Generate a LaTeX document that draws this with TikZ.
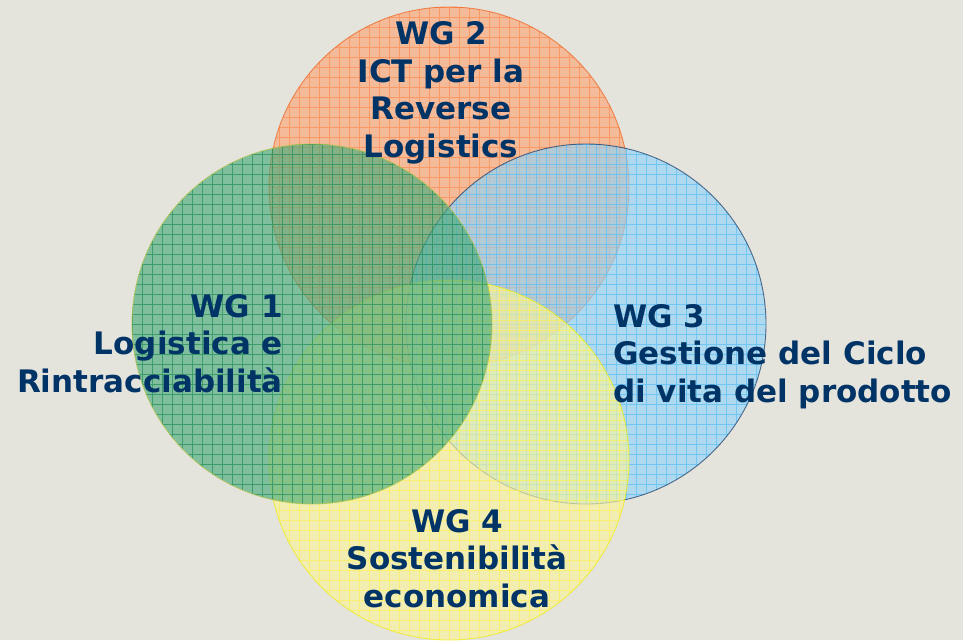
\documentclass[tikz,border=0pt]{standalone}
\usepackage{fontspec}
\setmainfont{DejaVu Sans}
\usepackage{tikz}
\definecolor{bg}{HTML}{E4E3DC}
\definecolor{navy}{HTML}{003366}
\definecolor{orfill}{HTML}{FCA678}
\definecolor{orgrid}{HTML}{FF8848}
\definecolor{orline}{HTML}{F05A10}
\definecolor{grfill}{HTML}{4AAC7C}
\definecolor{grgrid}{HTML}{1A8A52}
\definecolor{grline}{HTML}{B4C440}
\definecolor{blfill}{HTML}{92D4F8}
\definecolor{blgrid}{HTML}{50BCFA}
\definecolor{blline}{HTML}{0A2A5A}
\definecolor{yefill}{HTML}{FAF59C}
\definecolor{yegrid}{HTML}{FFF050}
\definecolor{yeline}{HTML}{F0EE00}

\begin{document}
\begin{tikzpicture}[x=1pt,y=-1pt]
\tikzstyle{main}=[circle, minimum size=360pt, inner sep=0pt, line width=0.9pt, opacity=0.65]
\tikzstyle{txt}=[font=\bfseries\fontsize{31}{37.5}\selectfont, text=navy, inner sep=0pt]
\tikzset{mesh/.style={path picture={\draw[#1, line width=0.6pt] (path picture bounding box.north west) grid[step=10pt] (path picture bounding box.south east);}}}
  \fill[bg] (0,0) rectangle (963,640);
  \useasboundingbox (0,0) rectangle (963,640);
  % wg2
  \node[main, draw=orline, fill=orfill, mesh=orgrid] (wg2) at (449,187) {};
  % wg3
  \node[main, draw=blline, fill=blfill, mesh=blgrid] (wg3) at (586,324) {};
  % wg4
  \node[main, draw=yeline, fill=yefill, mesh=yegrid] (wg4) at (449,460) {};
  % wg1
  \node[main, draw=grline, fill=grfill, mesh=grgrid] (wg1) at (312,324) {};
  % labels
  \node[txt, align=center, anchor=base] (t2) at (441,157) {WG 2\\ICT per la\\Reverse\\Logistics};
  \node[txt, align=right, anchor=base east] (t1) at (283,392) {WG 1\\Logistica e\\Rintracciabilità};
  \node[txt, align=left, anchor=base west] (t3) at (613,402) {WG 3\\Gestione del Ciclo\\di vita del prodotto};
  \node[txt, align=center, anchor=base] (t4) at (457,607) {WG 4\\Sostenibilità\\economica};
\end{tikzpicture}
\end{document}
